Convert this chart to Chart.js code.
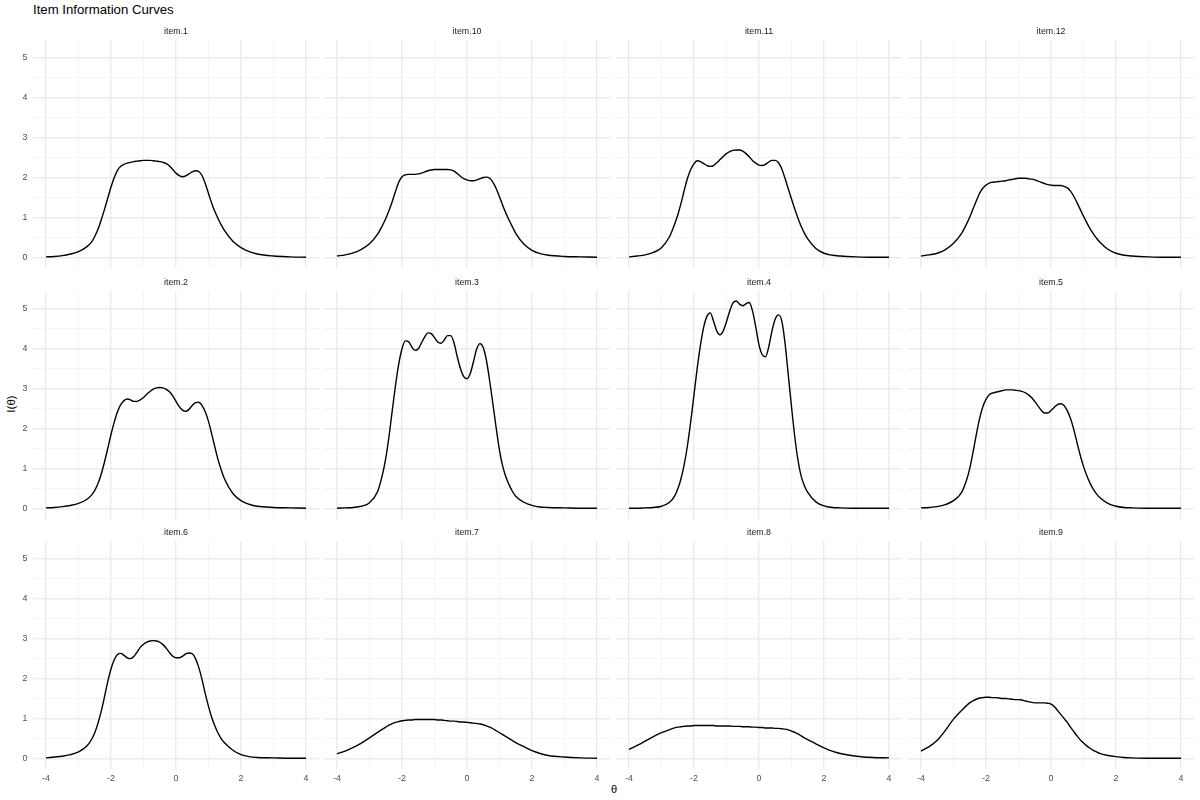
<!DOCTYPE html>
<html>
<head>
<meta charset="utf-8">
<title>Item Information Curves</title>
<script src="https://cdn.jsdelivr.net/npm/chart.js@4.4.1/dist/chart.umd.min.js"></script>
<style>
  html, body { margin: 0; padding: 0; background: #fff; }
  #wrap { position: relative; width: 1200px; height: 800px; overflow: hidden;
          font-family: 'Liberation Sans', Arial, Helvetica, sans-serif; }
  .panel { position: absolute; }
  #title { position: absolute; left: 33px; top: 2.4px; font-size: 13.2px; line-height: 16px; color: #000; white-space: nowrap; }
  #xlab { position: absolute; left: 564px; width: 100px; top: 782px; text-align: center; font-size: 11px; line-height: 14px; color: #000; }
  #ylab { position: absolute; left: -39px; top: 397px; width: 100px; text-align: center; font-size: 11.5px; line-height: 14px; color: #000;
          transform: rotate(-90deg); }
</style>
</head>
<body>
<div id="wrap">
  <div id="title">Item Information Curves</div>
  <div id="xlab">θ</div>
  <div id="ylab">I(θ)</div>
</div>
<script>
// θ grid (finer in the middle where the curves wiggle)
const theta = [-4, -3.75, -3.5, -3.25, -3, -2.75,
  -2.6, -2.5, -2.4, -2.3, -2.2, -2.1, -2.0, -1.9, -1.8, -1.7, -1.6, -1.5, -1.4, -1.3, -1.2, -1.1, -1.0, -0.9, -0.8, -0.7,
  -0.6, -0.5, -0.4, -0.3, -0.2, -0.1, 0, 0.1, 0.2, 0.3, 0.4, 0.5, 0.6, 0.7, 0.8, 0.9, 1.0, 1.1, 1.2, 1.3, 1.4,
  1.5, 1.75, 2, 2.25, 2.5, 3, 3.5, 4]

// item information I(θ)
const item1 = [0.01, 0.02, 0.04, 0.08, 0.14, 0.26,
  0.38, 0.52, 0.70, 0.94, 1.20, 1.48, 1.76, 2.00, 2.18, 2.28, 2.33, 2.36, 2.38, 2.40, 2.41, 2.42, 2.43, 2.43, 2.43, 2.42,
  2.41, 2.40, 2.38, 2.35, 2.29, 2.20, 2.11, 2.05, 2.02, 2.04, 2.09, 2.14, 2.17, 2.15, 2.05, 1.85, 1.60, 1.35, 1.14, 0.96, 0.80,
  0.66, 0.40, 0.24, 0.14, 0.08, 0.03, 0.01, 0.00]
const item10 = [0.03, 0.06, 0.11, 0.20, 0.34, 0.58,
  0.80, 0.97, 1.17, 1.40, 1.65, 1.88, 2.02, 2.07, 2.08, 2.08, 2.08, 2.09, 2.11, 2.14, 2.17, 2.19, 2.20, 2.20, 2.20, 2.20,
  2.20, 2.19, 2.16, 2.10, 2.03, 1.97, 1.94, 1.92, 1.92, 1.94, 1.97, 2.00, 2.01, 1.98, 1.88, 1.72, 1.52, 1.30, 1.10, 0.92, 0.76,
  0.60, 0.33, 0.17, 0.09, 0.05, 0.02, 0.01, 0.00]
const item11 = [0.01, 0.03, 0.06, 0.12, 0.24, 0.52,
  0.82, 1.06, 1.35, 1.68, 1.98, 2.20, 2.35, 2.42, 2.40, 2.35, 2.30, 2.28, 2.30, 2.37, 2.45, 2.53, 2.60, 2.65, 2.68, 2.69,
  2.69, 2.66, 2.60, 2.52, 2.43, 2.36, 2.31, 2.30, 2.33, 2.39, 2.43, 2.43, 2.37, 2.22, 1.98, 1.72, 1.46, 1.21, 0.98, 0.77, 0.60,
  0.46, 0.22, 0.10, 0.05, 0.03, 0.01, 0.00, 0.00]
const item12 = [0.03, 0.06, 0.10, 0.19, 0.35, 0.60,
  0.83, 1.01, 1.21, 1.41, 1.60, 1.73, 1.81, 1.86, 1.88, 1.89, 1.90, 1.91, 1.92, 1.94, 1.95, 1.97, 1.98, 1.98, 1.98, 1.97,
  1.96, 1.94, 1.91, 1.88, 1.85, 1.82, 1.81, 1.80, 1.80, 1.80, 1.78, 1.74, 1.66, 1.53, 1.37, 1.20, 1.03, 0.87, 0.72, 0.59, 0.48,
  0.38, 0.20, 0.10, 0.05, 0.03, 0.01, 0.00, 0.00]
const item2 = [0.01, 0.02, 0.04, 0.07, 0.12, 0.22,
  0.33, 0.45, 0.62, 0.86, 1.16, 1.50, 1.85, 2.16, 2.42, 2.60, 2.70, 2.74, 2.72, 2.68, 2.68, 2.72, 2.78, 2.86, 2.93, 2.99,
  3.02, 3.03, 3.02, 2.98, 2.92, 2.82, 2.68, 2.55, 2.46, 2.43, 2.48, 2.58, 2.65, 2.66, 2.58, 2.42, 2.18, 1.86, 1.52, 1.20, 0.94,
  0.72, 0.37, 0.19, 0.10, 0.05, 0.02, 0.01, 0.00]
const item3 = [0.00, 0.01, 0.02, 0.05, 0.14, 0.42,
  0.85, 1.25, 1.80, 2.45, 3.08, 3.62, 4.00, 4.20, 4.18, 4.05, 3.96, 4.00, 4.15, 4.30, 4.40, 4.38, 4.28, 4.17, 4.14, 4.22,
  4.33, 4.33, 4.15, 3.80, 3.50, 3.30, 3.25, 3.38, 3.68, 4.00, 4.13, 4.03, 3.70, 3.18, 2.60, 2.00, 1.45, 1.05, 0.78, 0.58, 0.42,
  0.30, 0.15, 0.07, 0.03, 0.02, 0.01, 0.00, 0.00]
const item4 = [0.00, 0.00, 0.01, 0.02, 0.05, 0.15,
  0.30, 0.48, 0.74, 1.10, 1.58, 2.18, 2.85, 3.52, 4.10, 4.55, 4.82, 4.90, 4.70, 4.45, 4.35, 4.45, 4.68, 4.95, 5.15, 5.20,
  5.12, 5.08, 5.13, 5.16, 4.95, 4.55, 4.10, 3.85, 3.80, 4.05, 4.45, 4.75, 4.85, 4.70, 4.15, 3.35, 2.55, 1.80, 1.20, 0.80, 0.56,
  0.40, 0.16, 0.06, 0.02, 0.01, 0.00, 0.00, 0.00]
const item5 = [0.01, 0.02, 0.04, 0.09, 0.19, 0.40,
  0.70, 1.00, 1.40, 1.84, 2.24, 2.54, 2.73, 2.85, 2.89, 2.91, 2.93, 2.95, 2.97, 2.97, 2.97, 2.96, 2.95, 2.93, 2.90, 2.85,
  2.78, 2.68, 2.57, 2.46, 2.39, 2.39, 2.45, 2.53, 2.60, 2.62, 2.58, 2.45, 2.25, 1.98, 1.65, 1.33, 1.05, 0.82, 0.63, 0.48, 0.36,
  0.27, 0.12, 0.05, 0.02, 0.01, 0.00, 0.00, 0.00]
const item6 = [0.01, 0.03, 0.05, 0.09, 0.16, 0.30,
  0.47, 0.64, 0.88, 1.18, 1.54, 1.92, 2.24, 2.47, 2.60, 2.63, 2.58, 2.52, 2.50, 2.55, 2.66, 2.78, 2.86, 2.91, 2.94, 2.95,
  2.94, 2.91, 2.85, 2.76, 2.65, 2.56, 2.52, 2.52, 2.56, 2.62, 2.64, 2.62, 2.50, 2.28, 1.98, 1.62, 1.30, 1.02, 0.80, 0.62, 0.48,
  0.38, 0.20, 0.09, 0.04, 0.02, 0.01, 0.00, 0.00]
const item7 = [0.11, 0.18, 0.27, 0.38, 0.51, 0.65,
  0.73, 0.78, 0.83, 0.87, 0.90, 0.92, 0.94, 0.95, 0.96, 0.96, 0.97, 0.97, 0.97, 0.97, 0.97, 0.97, 0.97, 0.96, 0.96, 0.95,
  0.94, 0.93, 0.93, 0.92, 0.91, 0.91, 0.90, 0.89, 0.88, 0.87, 0.86, 0.84, 0.81, 0.78, 0.74, 0.69, 0.64, 0.59, 0.54, 0.49, 0.44,
  0.39, 0.29, 0.19, 0.12, 0.07, 0.03, 0.01, 0.00]
const item8 = [0.22, 0.32, 0.43, 0.54, 0.64, 0.72,
  0.76, 0.78, 0.79, 0.80, 0.81, 0.81, 0.82, 0.82, 0.82, 0.82, 0.82, 0.82, 0.82, 0.81, 0.81, 0.81, 0.81, 0.81, 0.80, 0.80,
  0.80, 0.79, 0.79, 0.79, 0.78, 0.78, 0.77, 0.77, 0.76, 0.76, 0.76, 0.75, 0.75, 0.74, 0.73, 0.71, 0.68, 0.65, 0.61, 0.56, 0.51,
  0.47, 0.36, 0.26, 0.18, 0.12, 0.05, 0.02, 0.01]
const item9 = [0.18, 0.29, 0.45, 0.70, 0.98, 1.20,
  1.32, 1.39, 1.44, 1.48, 1.51, 1.52, 1.53, 1.53, 1.52, 1.52, 1.51, 1.50, 1.50, 1.49, 1.48, 1.47, 1.47, 1.46, 1.44, 1.42,
  1.40, 1.39, 1.39, 1.39, 1.39, 1.38, 1.36, 1.30, 1.20, 1.10, 1.00, 0.90, 0.78, 0.67, 0.56, 0.46, 0.38, 0.31, 0.25, 0.20, 0.16,
  0.12, 0.07, 0.04, 0.02, 0.01, 0.00, 0.00, 0.00]

// facet order (alphabetical, like the original)
const panelNames = ['item.1', 'item.10', 'item.11', 'item.12', 'item.2', 'item.3', 'item.4', 'item.5', 'item.6', 'item.7', 'item.8', 'item.9']
const panelValues = [item1, item10, item11, item12, item2, item3, item4, item5, item6, item7, item8, item9]

// axis ticks
const xTicks = [-4, -3, -2, -1, 0, 1, 2, 3, 4]
const xLabelTicks = [-4, -2, 0, 2, 4]
const yTicks = [0, 0.5, 1, 1.5, 2, 2.5, 3, 3.5, 4, 4.5, 5]
const yLabelTicks = [0, 1, 2, 3, 4, 5]

// layout of the grid (pixels)
const colLeft = [33, 324, 616, 908]
const rowTop = [40, 291, 541]
const panelW = 286
const panelH = 228
const stripH = 22
const yAxisW = 34
const xAxisH = 20

Chart.defaults.font.family = "'Liberation Sans', Arial, Helvetica, sans-serif"

const wrap = document.getElementById('wrap')

function gridColor(ctx, majors) {
    return majors.includes(ctx.tick.value) ? '#ebebeb' : '#f1f1f1'
}
function gridWidth(ctx, majors) {
    return majors.includes(ctx.tick.value) ? 1.4 : 0.7
}

panelNames.forEach((name, i) => {
    const row = Math.floor(i / 4)
    const col = i % 4

    const box = document.createElement('div')
    box.className = 'panel'
    box.style.left = (colLeft[col] - yAxisW) + 'px'
    box.style.top = (rowTop[row] - stripH) + 'px'
    const canvas = document.createElement('canvas')
    canvas.width = panelW + yAxisW
    canvas.height = stripH + panelH + xAxisH
    box.appendChild(canvas)
    wrap.appendChild(box)

    const values = panelValues[i]
    new Chart(canvas.getContext('2d'), {
        type: 'line',
        data: {
            datasets: [{
                label: name,
                data: theta.map((t, k) => ({ x: t, y: values[k] })),
                borderColor: '#000000',
                borderWidth: 1.4,
                pointRadius: 0,
                fill: false,
                cubicInterpolationMode: 'monotone'
            }]
        },
        options: {
            responsive: false,
            animation: false,
            devicePixelRatio: 1,
            layout: { padding: 0, autoPadding: false },
            plugins: {
                legend: { display: false },
                tooltip: { enabled: false },
                title: {
                    display: true,
                    text: name,
                    fullSize: false,
                    color: '#1a1a1a',
                    font: { size: 8.8, weight: 'normal' },
                    padding: { top: 8.6, bottom: 2.84 }
                }
            },
            scales: {
                x: {
                    type: 'linear',
                    min: -4.4,
                    max: 4.4,
                    afterBuildTicks: axis => { axis.ticks = xTicks.map(v => ({ value: v })) },
                    afterFit: axis => { axis.height = xAxisH },
                    ticks: {
                        display: row === 2,
                        autoSkip: false,
                        maxRotation: 0,
                        padding: 4,
                        color: '#4d4d4d',
                        font: { size: 8.8 },
                        callback: v => xLabelTicks.includes(v) ? String(v) : ''
                    },
                    grid: {
                        drawTicks: false,
                        color: ctx => gridColor(ctx, xLabelTicks),
                        lineWidth: ctx => gridWidth(ctx, xLabelTicks)
                    },
                    border: { display: false }
                },
                y: {
                    type: 'linear',
                    min: -0.27,
                    max: 5.45,
                    afterBuildTicks: axis => { axis.ticks = yTicks.map(v => ({ value: v })) },
                    afterFit: axis => { axis.width = yAxisW },
                    ticks: {
                        display: col === 0,
                        autoSkip: false,
                        padding: 5.5,
                        color: '#4d4d4d',
                        font: { size: 8.8 },
                        callback: v => yLabelTicks.includes(v) ? String(v) : ''
                    },
                    grid: {
                        drawTicks: false,
                        color: ctx => gridColor(ctx, yLabelTicks),
                        lineWidth: ctx => gridWidth(ctx, yLabelTicks)
                    },
                    border: { display: false }
                }
            }
        }
    })
})
</script>
</body>
</html>
